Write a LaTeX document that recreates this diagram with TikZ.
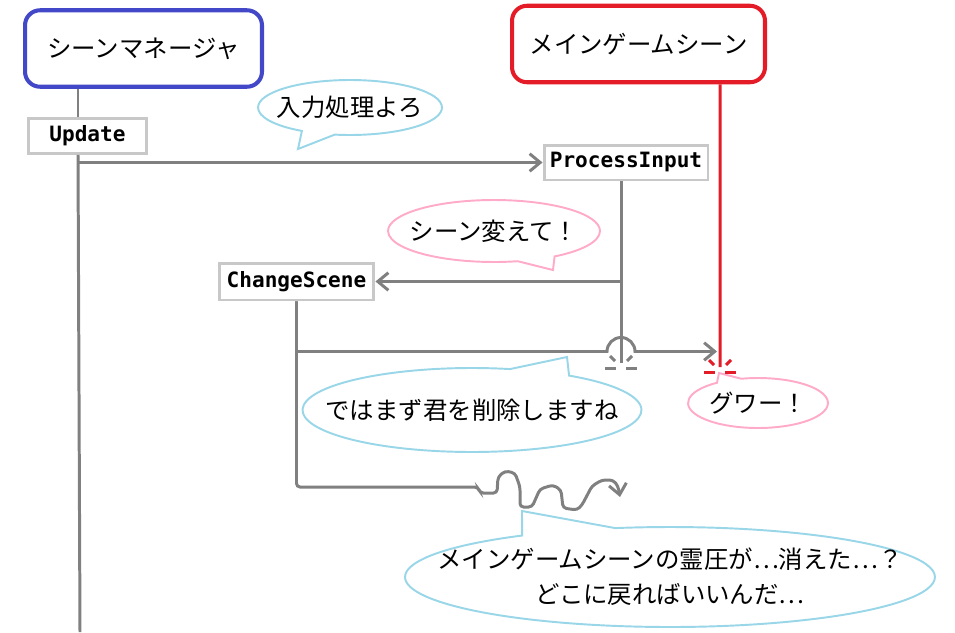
\documentclass[tikz,border=0pt]{standalone}
\usepackage{fontspec}
\setmainfont{Noto Sans CJK JP}
\newfontfamily\codefont{DejaVu Sans Mono}
\usetikzlibrary{arrows.meta,calc,shapes.geometric,shapes.callouts}
\definecolor{mgrblue}{RGB}{66,72,200}
\definecolor{scenered}{RGB}{228,28,40}
\definecolor{linegray}{RGB}{128,128,128}
\definecolor{boxgray}{RGB}{200,200,200}
\definecolor{talkblue}{RGB}{152,214,232}
\definecolor{talkpink}{RGB}{255,170,200}
\tikzset{
  head/.style={draw,line width=2.3pt,rounded corners=0.3cm,fill=white,inner sep=0pt,minimum height=1.53cm},
  func/.style={draw=boxgray,line width=1.7pt,fill=white,inner sep=0pt,minimum height=0.7cm,font=\codefont\bfseries\fontsize{12}{14}\selectfont},
  life/.style={draw=linegray,line width=1.7pt},
  msg/.style={life,-{Straight Barb[length=6pt,width=10pt]}},
  talk/.style={ellipse callout,draw,line width=1.1pt,fill=white,inner ysep=0pt,callout pointer arc=22,align=center},
}
\begin{document}
\begin{tikzpicture}[x=0.02cm,y=-0.02cm,font=\fontsize{13.9}{20}\selectfont]
\useasboundingbox (0,0) rectangle (955,632);
\node[head,draw=mgrblue,minimum width=4.74cm] (mgr) at (143.5,48.5) {シーンマネージャ};
\node[head,draw=scenered,minimum width=5.06cm] (gm) at (638.5,44) {メインゲームシーン};
\node[func,minimum width=2.36cm] (upd) at (87.5,136) {Update};
\node[func,minimum width=3.28cm] (pi) at (626,162.5) {ProcessInput};
\node[func,minimum width=3.1cm,minimum height=0.74cm] (cs) at (296.5,281.5) {ChangeScene};

\node[talk,draw=talkblue,inner xsep=-0.17cm,minimum width=3.68cm,minimum height=1.1cm,callout absolute pointer={(298,149)}] (t1) at (350,107.5) {入力処理よろ};
\node[talk,draw=talkpink,inner xsep=-0.22cm,minimum width=4.24cm,minimum height=1.24cm,callout absolute pointer={(553,270)}] (t2) at (494,231) {シーン変えて！};
\node[talk,draw=talkblue,inner xsep=-0.54cm,minimum width=6.78cm,minimum height=1.68cm,callout absolute pointer={(567,357)}] (t3) at (472,410) {ではまず君を削除しますね};
\node[talk,draw=talkpink,inner xsep=0pt,minimum width=2.8cm,minimum height=1cm,callout absolute pointer={(719,373)}] (t4) at (758,403) {グワー！};
\node[talk,draw=talkblue,inner xsep=-0.91cm,minimum width=10.6cm,minimum height=2cm,callout absolute pointer={(522,511)},font=\fontsize{13.9}{20}\selectfont\addfontfeatures{RawFeature=+fwid}] (t5) at (670,577) {メインゲームシーンの霊圧が…消えた…？\\どこに戻ればいいんだ…};

\coordinate (mgrL) at ($(mgr.south west)+(55,0)$);
\coordinate (mgrEnd) at (80,632);
\coordinate (piL) at ($(pi.south)+(-5,0)$);
\coordinate (piEnd) at (621,363);
\coordinate (gmL) at ($(gm.south)+(81.5,0)$);
\coordinate (gmEnd) at (720,367);
\coordinate (csOut) at ($(cs.south)+(0,50)$);
\coordinate (lost) at (620,497);

\draw[life] (mgrL) -- (mgrL |- upd.north);
\draw[life] (mgrL |- upd.south) -- (mgrEnd);
\draw[life] (piL) -- (piEnd);
\draw[life,draw=scenered] (gmL) -- (gmEnd);
\draw[msg] (mgrL |- pi.west) -- (pi.west);
\draw[msg] (piL |- cs.east) -- (cs.east);
\draw[msg] (cs.south) -- (csOut) -- ($(piL |- csOut)+(-14,0)$) arc[start angle=180,end angle=0,radius=0.28cm] -- ($(gmL |- csOut)+(-3,0)$);
\draw[msg,rounded corners=0.07cm] (cs.south) |- (478,487) -- (480,493) -- (497,493) -- (498,477) -- (505,471) -- (515,473) -- (520,487) -- (520,507) -- (532,507) -- (540,489) -- (553,485) -- (561,490) -- (563,508) -- (577,510) -- (582,505) -- (592,486) -- (602,480) -- (613,480) -- (618,486) -- (lost);

\foreach \p/\c in {piEnd/linegray,gmEnd/scenered}{
  \draw[\c,line width=1.7pt] ($(\p)+(-11,-7)$) -- ($(\p)+(-6,-2)$);
  \draw[\c,line width=1.7pt] ($(\p)+(11,-7)$) -- ($(\p)+(6,-2)$);
  \draw[\c,line width=1.7pt] ($(\p)+(-16,5)$) -- ($(\p)+(-5,5)$);
  \draw[\c,line width=1.7pt] ($(\p)+(16,5)$) -- ($(\p)+(5,5)$);
}
\end{tikzpicture}
\end{document}
